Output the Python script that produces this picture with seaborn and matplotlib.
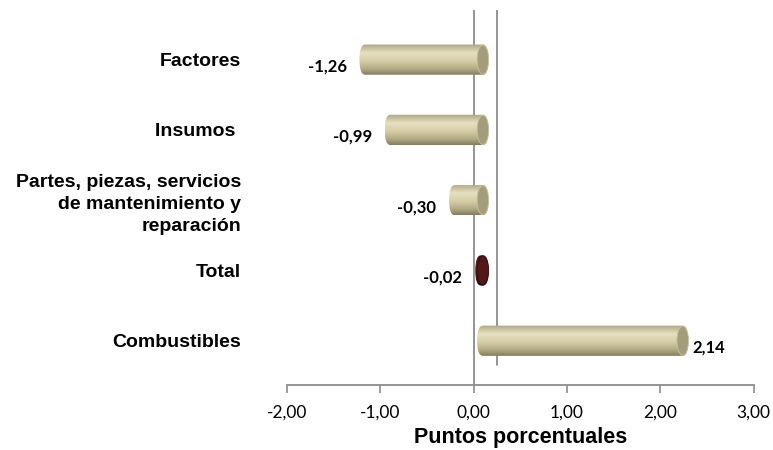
import numpy as np
import pandas as pd
import seaborn as sns
import matplotlib.pyplot as plt
from matplotlib.colors import LinearSegmentedColormap
from matplotlib.patches import FancyBboxPatch, Ellipse

categories = ['Factores', 'Insumos ', 'Partes, piezas, servicios\nde mantenimiento y\nreparación',
              'Total', 'Combustibles']
values = [-1.26, -0.99, -0.30, -0.02, 2.14]
value_labels = ['-1,26', '-0,99', '-0,30', '-0,02', '2,14']
xticks = [-2, -1, 0, 1, 2, 3]
xtick_labels = ['-2,00', '-1,00', '0,00', '1,00', '2,00', '3,00']

tan = ['#aca580', '#e6e0c0', '#d5cea6', '#b2ab86', '#837d5c']
wine = ['#360b0b', '#6e2424', '#541818', '#421010', '#260606']
bar_colors = ['#d8d1a6', '#d8d1a6', '#d8d1a6', '#541818', '#d8d1a6']
cap_colors = ['#a39d7a', '#a39d7a', '#a39d7a', '#521717', '#a39d7a']
cap_edges = ['#c9c3a0', '#c9c3a0', '#c9c3a0', '#340b0b', '#c9c3a0']
shades = [tan, tan, tan, wine, tan]

df = pd.DataFrame({'cat': categories, 'val': values})

sns.set_theme(style='white')
plt.rcParams['font.family'] = ['Liberation Sans', 'DejaVu Sans']
plt.rcParams['text.color'] = 'black'

fig = plt.figure(figsize=(7.73, 4.5), dpi=100)
ax = fig.add_axes([0.371, 0.1444, 0.604, 0.834])

sns.barplot(data=df, x='val', y='cat', hue='cat', palette=bar_colors, legend=False,
            orient='h', width=0.43, ax=ax, zorder=3)

# 3D cylinder look: small depth shift, rounded ends, vertical shading, end cap
depth = 0.1
rx = 0.062
grad = np.linspace(0, 1, 128)[:, None]
for patch, stops, capc, cape in zip(list(ax.patches), shades, cap_colors, cap_edges):
    x0, y0 = patch.get_x(), patch.get_y()
    w, h = patch.get_width(), patch.get_height()
    ry = h / 2
    left = min(x0, x0 + w) + depth
    right = max(x0, x0 + w) + depth
    patch.set_visible(False)
    body = FancyBboxPatch((left, y0 + ry), right - left, h - 2 * ry,
                          boxstyle=f'round,pad={rx},rounding_size={rx}',
                          mutation_aspect=ry / rx, facecolor='none', edgecolor='none')
    ax.add_patch(body)
    cmap = LinearSegmentedColormap.from_list('cyl', list(zip([0, 0.28, 0.55, 0.8, 1], stops)))
    im = ax.imshow(grad, cmap=cmap, extent=[left - rx, right + rx, y0 + h, y0],
                   aspect='auto', interpolation='bilinear', zorder=4)
    im.set_clip_path(body)
    ax.add_patch(Ellipse((right, y0 + h / 2), 2 * rx, h * 0.97, facecolor=capc,
                         edgecolor=cape, lw=0.6, zorder=5))

ax.set_xlim(-2, 3)
ax.set_ylim(4.63, -0.71)

# zero line and 3D back wall line
ax.axvline(0, color='#8c8c8c', lw=1.3, zorder=2)
ax.axvline(0.25, ymin=0.053, ymax=1, color='#8c8c8c', lw=1.3, zorder=2)

for i, (v, lab) in enumerate(zip(values, value_labels)):
    if v < 0:
        ax.text(v - 0.1, i + 0.1, lab, ha='right', va='center', fontsize=12,
                fontweight='bold', color='black', family=['Lato', 'DejaVu Sans'], zorder=6)
    else:
        ax.text(v + 0.2, i + 0.1, lab, ha='left', va='center', fontsize=12,
                fontweight='bold', color='black', family=['Lato', 'DejaVu Sans'], zorder=6)

ax.set_yticks(range(len(categories)))
ax.set_yticklabels(categories, fontsize=14, fontweight='bold', linespacing=1.35, color='black')
ax.tick_params(axis='y', length=0, pad=33)
for lbl in ax.get_yticklabels():
    lbl.set_horizontalalignment('right')
    lbl.set_multialignment('right')
ax.set_ylabel('')

ax.set_xticks(xticks)
ax.set_xticklabels(xtick_labels, fontsize=12.5, family=['Lato', 'DejaVu Sans'], color='black')
ax.tick_params(axis='x', direction='out', length=6, width=1.2, color='#8c8c8c', pad=8, bottom=True)
ax.set_xlabel('Puntos porcentuales', fontsize=15.5, fontweight='bold', labelpad=5, color='black')

for s in ['top', 'right', 'left']:
    ax.spines[s].set_visible(False)
ax.spines['bottom'].set_color('#8c8c8c')
ax.spines['bottom'].set_linewidth(1.3)

fig.savefig('out.png', dpi=100)
